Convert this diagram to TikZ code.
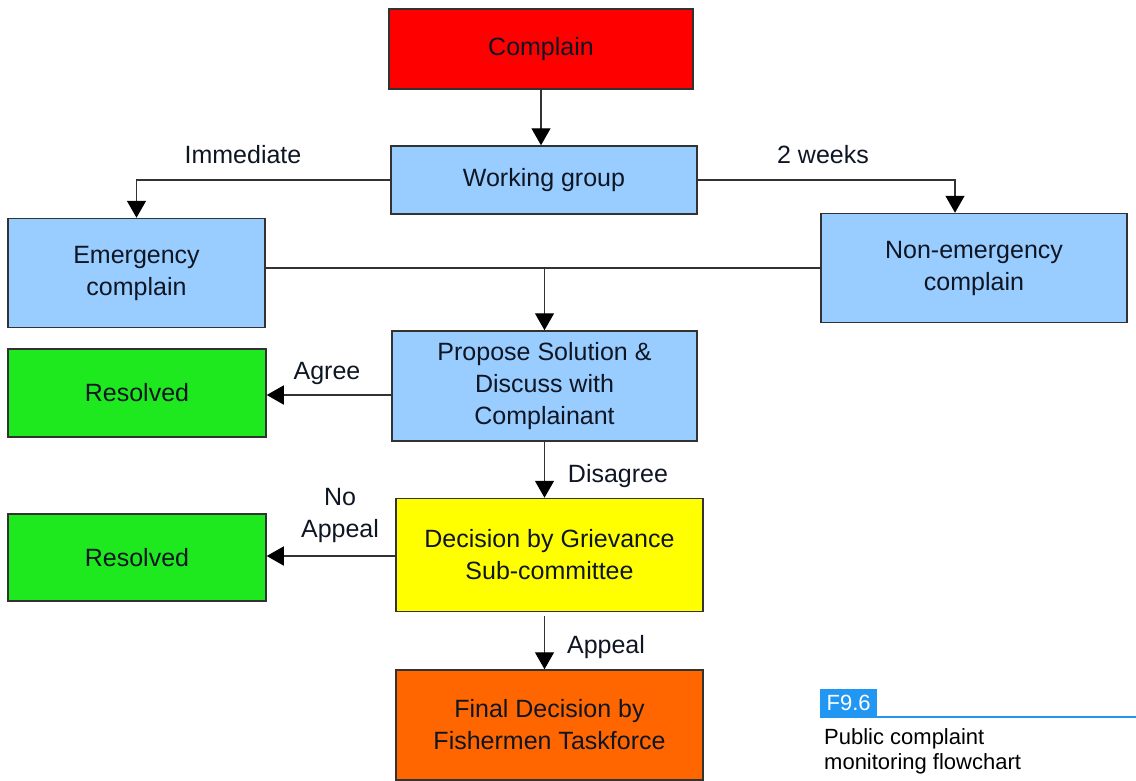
\documentclass[tikz,border=0pt]{standalone}
\usepackage{fontspec}
\setmainfont{Liberation Sans}
\usetikzlibrary{arrows.meta,calc}
\definecolor{boxred}{RGB}{255,0,0}
\definecolor{boxblue}{RGB}{153,204,255}
\definecolor{boxgreen}{RGB}{30,232,30}
\definecolor{boxyellow}{RGB}{255,255,0}
\definecolor{boxorange}{RGB}{255,102,0}
\definecolor{boxtext}{RGB}{15,22,35}
\definecolor{edgegray}{RGB}{50,50,50}
\definecolor{capblue}{RGB}{33,150,243}
\tikzset{
  flowbox/.style={draw=edgegray, line width=1.5pt, align=center, text=boxtext,
    font=\fontsize{25}{32}\selectfont, inner sep=0pt},
  flow/.style={draw=edgegray, line width=1.4pt,
    -{Triangle[width=19pt,length=17pt,color=black]}},
  plainline/.style={draw=edgegray, line width=1.4pt},
  lbl/.style={text=boxtext, font=\fontsize{25}{32}\selectfont, align=center, inner sep=0pt}
}
\begin{document}
\begin{tikzpicture}[x=1pt,y=-1pt]
\useasboundingbox (0,0) rectangle (1136,780);

% boxes
\node[flowbox, fill=boxred, minimum width=304pt, minimum height=80pt] (cp) at (541,49) {Complain};
\node[flowbox, fill=boxblue, minimum width=306pt, minimum height=68pt] (wg) at (544,180) {Working group};
\node[flowbox, fill=boxblue, minimum width=257pt, minimum height=109pt] (em) at (136.5,273) {Emergency\\complain};
\node[flowbox, fill=boxblue, minimum width=306pt, minimum height=109pt] (ne) at (974,268) {Non-emergency\\complain};
\node[flowbox, fill=boxblue, minimum width=305pt, minimum height=110pt] (ps) at (544.5,386) {Propose Solution \&\\Discuss with\\Complainant};
\node[flowbox, fill=boxgreen, minimum width=258pt, minimum height=88pt] (r1) at (137,393) {Resolved};
\node[flowbox, fill=boxyellow, minimum width=307pt, minimum height=113pt] (dg) at (549.5,555) {Decision by Grievance\\Sub-committee};
\node[flowbox, fill=boxgreen, minimum width=258pt, minimum height=87pt] (r2) at (137,557.5) {Resolved};
\node[flowbox, fill=boxorange, minimum width=307pt, minimum height=110pt] (fd) at (549.5,725) {Final Decision by\\Fishermen Taskforce};

% connectors
\draw[flow] (cp.south) -- (cp.south |- wg.north);
\draw[flow] (wg.west) -| (em.north);
\draw[flow] (wg.east) -| ([xshift=-19pt]ne.north);
\draw[plainline] (ne.west) -- (ne.west -| em.east);
\coordinate (join) at (ps.north |- ne.west);
\draw[flow] (join) -- (ps.north);
\draw[flow] ([yshift=-9pt]ps.west) -- ([yshift=-9pt]ps.west -| r1.east);
\draw[flow] (ps.south) -- (ps.south |- dg.north);
\draw[flow] ([yshift=-1pt]dg.west) -- ([yshift=-1pt]dg.west -| r2.east);
\coordinate (apstart) at ($(dg.south)+(-5,4)$);
\draw[flow] (apstart) -- (apstart |- fd.north);

% connector labels
\node[lbl] (limm) at (243,155) {Immediate};
\node[lbl] (l2w) at (823,155) {2 weeks};
\node[lbl] (lagr) at (327,373) {Agree};
\node[lbl] (ldis) at (618,476) {Disagree};
\node[lbl] (lnoap) at (340,515) {No\\Appeal};
\node[lbl] (lap) at (606,647) {Appeal};

% figure caption
\node[fill=capblue, text=white, anchor=south west, minimum width=57pt, minimum height=28pt,
  inner sep=0pt, font=\fontsize{22}{26}\selectfont] (capid) at (820,717) {F9.6};
\draw[capblue, line width=1.5pt] (capid.south west) -- (1136,717);
\node[anchor=north west, align=left, text=black, inner sep=0pt,
  font=\fontsize{22}{25}\selectfont] (captxt) at (824,728) {Public complaint\\monitoring flowchart};
\end{tikzpicture}
\end{document}
